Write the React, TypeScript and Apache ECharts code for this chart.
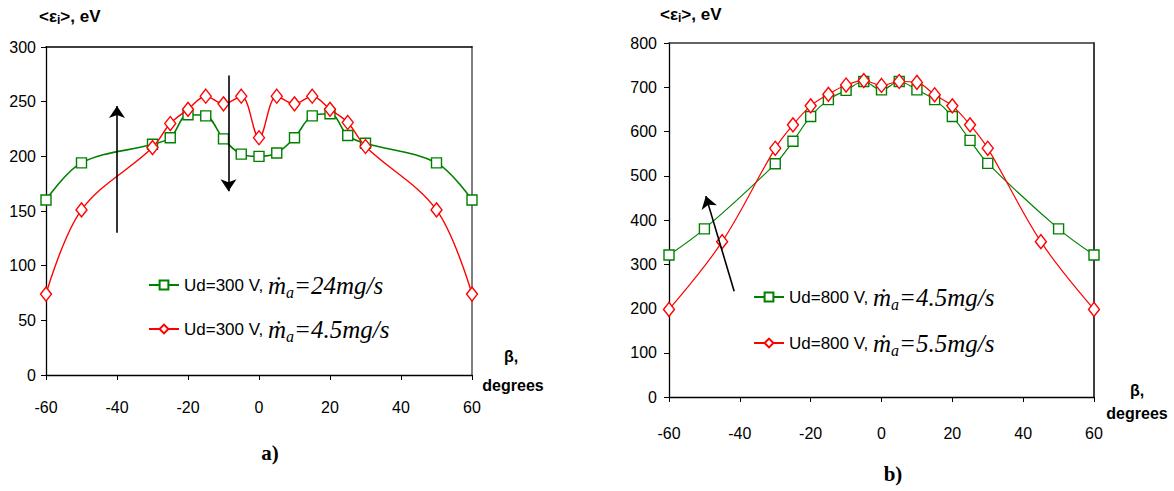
import React, { useEffect, useRef } from "react";
import * as echarts from "echarts";

// ---- data ----
const xLeftGreen = [-60, -50, -30, -25, -20, -15, -10, -5, 0, 5, 10, 15, 20, 25, 30, 50, 60];
const yLeftGreen = [160, 194, 211, 217, 238, 237, 216, 202, 200, 203, 217, 237, 239, 219, 212, 194, 160];
const xLeftRed = [-60, -50, -30, -25, -20, -15, -10, -5, 0, 5, 10, 15, 20, 25, 30, 50, 60];
const yLeftRed = [74, 151, 208, 230, 243, 255, 248, 255, 217, 255, 248, 255, 243, 231, 209, 151, 74];

const xRightGreen = [-60, -50, -30, -25, -20, -15, -10, -5, 0, 5, 10, 15, 20, 25, 30, 50, 60];
const yRightGreen = [321, 380, 527, 578, 634, 672, 693, 713, 694, 713, 694, 672, 634, 580, 528, 380, 321];
const xRightRed = [-60, -45, -30, -25, -20, -15, -10, -5, 0, 5, 10, 15, 20, 25, 30, 45, 60];
const yRightRed = [198, 351, 562, 615, 658, 684, 705, 715, 704, 713, 711, 683, 658, 615, 562, 351, 198];

const seriesNames = ["L1", "L2", "R1", "R2"];
const legendVolt = ["Ud=300 V, ", "Ud=300 V, ", "Ud=800 V, ", "Ud=800 V, "];
const legendRate = ["=24mg/s", "=4.5mg/s", "=4.5mg/s", "=5.5mg/s"];

// arrows (annotation, in data coordinates)
const leftArrows = [
  [[-40, 130], [-40, 246]],
  [[-8.6, 274], [-8.6, 168]],
];
const rightArrows = [[[-41.6, 239], [-49.6, 454]]];

const SANS = '"Liberation Sans", Arial, sans-serif';
const SERIF = '"Liberation Serif", "Times New Roman", serif';

const GREEN = "#008000";
const RED = "#ff0000";

const zip = (xs: number[], ys: number[]) => xs.map((x, i) => [x, ys[i]]);

export default function App() {
  const ref = useRef<HTMLDivElement>(null);
  useEffect(() => {
    if (!ref.current) return;
    const chart = echarts.init(ref.current, null, { renderer: "svg" });

    const axisLabel = { fontFamily: SANS, fontSize: 16, color: "#000" };

    const mkX = (grid: number, margin: number) => ({
      type: "value",
      gridIndex: grid,
      min: -60,
      max: 60,
      interval: 20,
      axisLine: { show: true, lineStyle: { color: "#000", width: 1.3 } },
      axisTick: { show: true, inside: false, length: 5, lineStyle: { color: "#000" } },
      axisLabel: { ...axisLabel, margin },
      splitLine: { show: false },
    });
    const mkXTop = (grid: number, color: string) => ({
      type: "value",
      gridIndex: grid,
      position: "top",
      min: -60,
      max: 60,
      axisLine: { show: true, onZero: false, lineStyle: { color, width: 1.5 } },
      axisTick: { show: false },
      axisLabel: { show: false },
      splitLine: { show: false },
    });
    const mkY = (grid: number, max: number, interval: number, margin: number) => ({
      type: "value",
      gridIndex: grid,
      min: 0,
      max,
      interval,
      axisLine: { show: true, onZero: false, lineStyle: { color: "#000", width: 1.3 } },
      axisTick: { show: true, inside: false, length: 5, lineStyle: { color: "#000" } },
      axisLabel: { ...axisLabel, margin },
      splitLine: { show: false },
    });
    const mkYRight = (grid: number, max: number, color: string, width: number) => ({
      type: "value",
      gridIndex: grid,
      position: "right",
      min: 0,
      max,
      axisLine: { show: true, onZero: false, lineStyle: { color, width } },
      axisTick: { show: false },
      axisLabel: { show: false },
      splitLine: { show: false },
    });

    const arrowMarkLine = (arrows: number[][][]) => ({
      silent: true,
      symbol: ["none", "arrow"],
      symbolSize: 12,
      label: { show: false },
      emphasis: { disabled: true },
      lineStyle: { color: "#000", width: 1.6, type: "solid" },
      data: arrows.map((a) => [{ coord: a[0] }, { coord: a[1] }]),
    });

    const mkSeries = (
      name: string,
      data: number[][],
      grid: number,
      color: string,
      symbol: string,
      symbolSize: any,
      width: number,
      markLine?: any
    ) => ({
      name,
      type: "line",
      xAxisIndex: grid * 2,
      yAxisIndex: grid * 2,
      data,
      smooth: 0.35,
      symbol,
      symbolSize,
      showSymbol: true,
      lineStyle: { color, width },
      itemStyle: { color: "#fff", borderColor: color, borderWidth: 1.4 },
      emphasis: { disabled: true },
      z: color === RED ? 3 : 2,
      ...(markLine ? { markLine } : {}),
    });

    const legendRich = {
      n: { fontFamily: SANS, fontSize: 17, color: "#000", lineHeight: 30 },
      m: { fontFamily: SERIF, fontStyle: "italic", fontSize: 25, color: "#000", lineHeight: 30 },
      s: {
        fontFamily: SERIF,
        fontStyle: "italic",
        fontSize: 16,
        color: "#000",
        lineHeight: 30,
        verticalAlign: "bottom",
        padding: [12, 0, 0, 0],
      },
    };
    const legendFormatter = (name: string) => {
      const i = seriesNames.indexOf(name);
      return `{n|${legendVolt[i]}}{m|ṁ}{s|a}{m|${legendRate[i]}}`;
    };

    const titleRich = {
      b: { fontFamily: SANS, fontWeight: "bold", fontSize: 17, color: "#000" },
      s: { fontFamily: SANS, fontWeight: "bold", fontSize: 12, color: "#000", padding: [7, 0, 0, 0] },
    };

    const boldSans = { fontFamily: SANS, fontWeight: "bold", fontSize: 16, fill: "#000", align: "center", verticalAlign: "middle" };

    const option: any = {
      animation: false,
      backgroundColor: "#fff",
      grid: [
        { left: 46, top: 47, width: 426, height: 328 },
        { left: 669, top: 43, width: 425, height: 354 },
      ],
      xAxis: [mkX(0, 24), mkXTop(0, "#000"), mkX(1, 28), mkXTop(1, "#333")],
      yAxis: [
        mkY(0, 300, 50, 10),
        mkYRight(0, 300, "#808080", 2),
        mkY(1, 800, 100, 12),
        mkYRight(1, 800, "#000", 1.5),
      ],
      legend: [
        {
          data: ["L1", "L2"],
          orient: "vertical",
          left: 143,
          top: 267,
          itemWidth: 30,
          itemHeight: 11,
          itemGap: 16,
          formatter: legendFormatter,
          textStyle: { rich: legendRich },
          selectedMode: false,
        },
        {
          data: ["R1", "R2"],
          orient: "vertical",
          left: 748,
          top: 279,
          itemWidth: 30,
          itemHeight: 11,
          itemGap: 18,
          formatter: legendFormatter,
          textStyle: { rich: legendRich },
          selectedMode: false,
        },
      ],
      series: [
        mkSeries("L1", zip(xLeftGreen, yLeftGreen), 0, GREEN, "rect", 10, 1.6, arrowMarkLine(leftArrows)),
        mkSeries("L2", zip(xLeftRed, yLeftRed), 0, RED, "diamond", [11, 14], 1.4),
        mkSeries("R1", zip(xRightGreen, yRightGreen), 1, GREEN, "rect", 10, 1.2, arrowMarkLine(rightArrows)),
        mkSeries("R2", zip(xRightRed, yRightRed), 1, RED, "diamond", [11, 14], 1.2),
      ],
      graphic: [
        {
          type: "text",
          left: 39,
          top: 8,
          style: { text: "{b|<ε}{s|i}{b|>, eV}", rich: titleRich },
        },
        {
          type: "text",
          left: 660,
          top: 6,
          style: { text: "{b|<ε}{s|i}{b|>, eV}", rich: titleRich },
        },
        { type: "text", x: 511, y: 356, style: { ...boldSans, text: "β," } },
        { type: "text", x: 513, y: 385, style: { ...boldSans, text: "degrees" } },
        { type: "text", x: 1137, y: 390, style: { ...boldSans, text: "β," } },
        { type: "text", x: 1137, y: 413, style: { ...boldSans, text: "degrees" } },
        {
          type: "text",
          x: 270,
          y: 453,
          style: { text: "a)", fontFamily: SERIF, fontWeight: "bold", fontSize: 21, fill: "#000", align: "center", verticalAlign: "middle" },
        },
        {
          type: "text",
          x: 893,
          y: 474,
          style: { text: "b)", fontFamily: SERIF, fontWeight: "bold", fontSize: 21, fill: "#000", align: "center", verticalAlign: "middle" },
        },
      ],
    };

    chart.setOption(option);
    return () => chart.dispose();
  }, []);

  return (
    <div
      ref={ref}
      style={{ position: "absolute", left: 0, top: 0, width: 1174, height: 491, background: "#fff" }}
    />
  );
}
